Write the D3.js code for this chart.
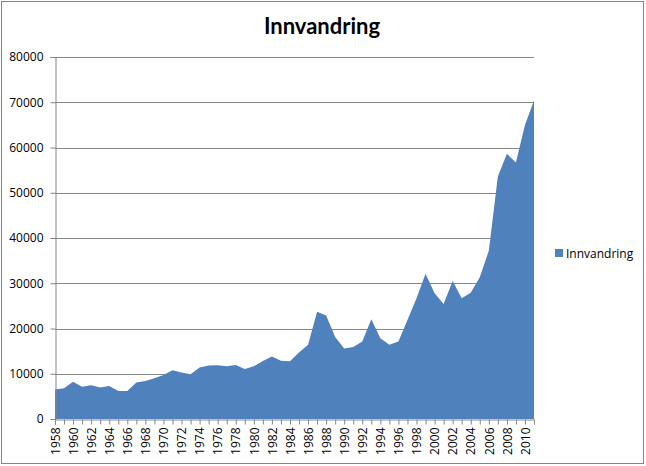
<!DOCTYPE html>
<html>
<head>
<meta charset="utf-8">
<script src="https://cdn.jsdelivr.net/npm/d3@7"></script>
<style>
  body { margin: 0; background: #fff; }
  svg { display: block; }
</style>
</head>
<body>
<div id="chart-area"></div>
<script>
// Data
var years = d3.range(1958, 2012);
var innvandring = [
    6500, 6800, 8250, 7100, 7450, 6950, 7300, 6200, 6200, 8050,
    8400, 9000, 9700, 10800, 10250, 9900, 11400, 11800, 11900, 11650,
    11950, 11050, 11650, 12800, 13800, 12900, 12750, 14700, 16400, 23700,
    22900, 18100, 15600, 15900, 17100, 22050, 17850, 16400, 17100, 21900,
    26700, 32100, 27800, 25400, 30500, 26700, 27900, 31300, 37200, 53600,
    58600, 56700, 65000, 70400
];
var yTicks = [0, 10000, 20000, 30000, 40000, 50000, 60000, 70000, 80000];
var seriesName = "Innvandring";

var W = 646, H = 466;
var margin = { left: 55, right: 112, top: 57, bottom: 47 };
var width = W - margin.left - margin.right,
    height = H - margin.top - margin.bottom;

var svg = d3.select("#chart-area")
    .append("svg")
        .attr("width", W)
        .attr("height", H);

// chart border
svg.append("rect")
    .attr("x", 1.5).attr("y", 1.5)
    .attr("width", W - 4).attr("height", H - 4)
    .attr("fill", "none")
    .attr("stroke", "#868686");

// Title
svg.append("text")
    .attr("x", 322)
    .attr("y", 34)
    .attr("text-anchor", "middle")
    .attr("font-family", "Lato, 'Open Sans', sans-serif")
    .attr("font-weight", "bold")
    .attr("font-size", "22px")
    .attr("fill", "#000")
    .text("Innvandring");

var g = svg.append("g")
    .attr("transform", "translate(" + margin.left + ", " + margin.top + ")");

// Scales
var x = d3.scaleLinear()
    .domain([years[0], years[years.length - 1]])
    .range([0, width]);

var y = d3.scaleLinear()
    .domain([0, 80000])
    .range([height, 0]);

// Gridlines
g.append("g")
    .selectAll("line")
    .data(yTicks.slice(1))
    .enter().append("line")
        .attr("x1", 0)
        .attr("x2", width)
        .attr("y1", function(d){ return Math.round(y(d)) + 0.5; })
        .attr("y2", function(d){ return Math.round(y(d)) + 0.5; })
        .attr("stroke", "#868686")
        .attr("stroke-width", 1);

// Area
var area = d3.area()
    .x(function(d, i){ return x(years[i]); })
    .y0(height)
    .y1(function(d){ return y(d); });

g.append("path")
    .datum(innvandring)
    .attr("d", area)
    .attr("fill", "#4F81BD");

// Y axis
var yAxisCall = d3.axisLeft(y)
    .tickValues(yTicks)
    .tickSize(5)
    .tickPadding(7)
    .tickFormat(d3.format("d"));
var yAxisGroup = g.append("g")
    .attr("class", "y axis")
    .attr("transform", "translate(0.5,0)")
    .call(yAxisCall);

// X axis - tick every year, label every second
var xAxisCall = d3.axisBottom(x)
    .tickValues(years)
    .tickSize(5)
    .tickFormat(function(d){ return d % 2 === 0 ? d : ""; });
var xAxisGroup = g.append("g")
    .attr("class", "x axis")
    .attr("transform", "translate(0," + (height + 0.5) + ")")
    .call(xAxisCall);

xAxisGroup.selectAll("text")
    .attr("transform", "rotate(-90)")
    .attr("text-anchor", "end")
    .attr("x", -8)
    .attr("y", 0)
    .attr("dy", "0.35em");

svg.selectAll(".axis path, .axis line").attr("stroke", "#868686");
svg.selectAll(".axis text")
    .attr("fill", "#000")
    .attr("font-family", "'Open Sans', sans-serif")
    .attr("font-size", "12px");

// Legend
var legend = svg.append("g")
    .attr("transform", "translate(555, 249)");
legend.append("rect")
    .attr("width", 8).attr("height", 8)
    .attr("fill", "#4F81BD");
legend.append("text")
    .attr("x", 11)
    .attr("y", 8.5)
    .attr("font-family", "'Open Sans', sans-serif")
    .attr("font-size", "12px")
    .attr("fill", "#000")
    .text(seriesName);
</script>
</body>
</html>
